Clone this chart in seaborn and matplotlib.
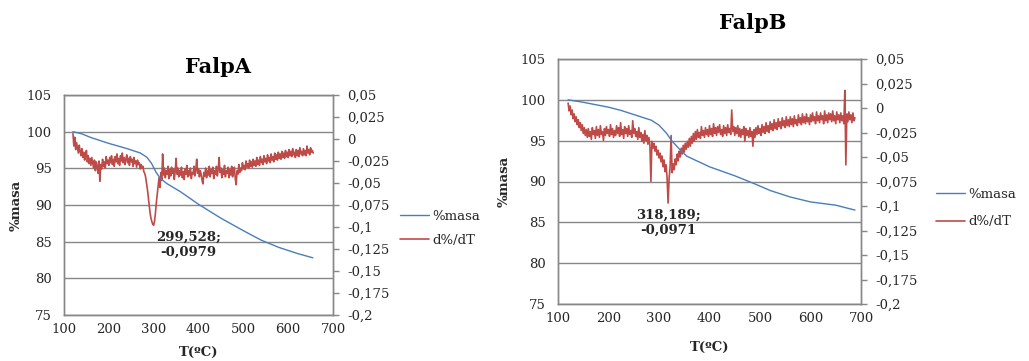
import numpy as np
import pandas as pd
import seaborn as sns
import matplotlib
matplotlib.use("Agg")
import matplotlib.pyplot as plt

# ---------------- data ----------------
titles = ["FalpA", "FalpB"]

# %masa curves (left axis)
massA_T = [120, 140, 160, 200, 240, 270, 285, 295, 305, 315, 330, 360, 400, 450, 500, 540, 580, 620, 655]
massA = [100.0, 99.7, 99.2, 98.4, 97.7, 97.1, 96.5, 95.7, 94.5, 93.6, 92.9, 91.8, 90.1, 88.2, 86.5, 85.2, 84.2, 83.4, 82.8]

massB_T = [120, 150, 200, 225, 255, 285, 300, 315, 325, 340, 355, 400, 450, 490, 520, 560, 600, 650, 688]
massB = [100.0, 99.7, 99.1, 98.7, 98.1, 97.5, 96.9, 95.9, 95.0, 94.0, 93.1, 91.8, 90.7, 89.7, 88.9, 88.1, 87.5, 87.1, 86.5]

# d%/dT curves (right axis), sampled every 2 ºC starting at 120 ºC (20 values per row = 40 ºC)
dA = [
    0.006, -0.008, 0.002, -0.012, -0.004, -0.010, -0.016, -0.007, -0.014, -0.019,
    -0.011, -0.021, -0.015, -0.024, -0.018, -0.013, -0.026, -0.019, -0.028, -0.022,   # 120
    -0.030, -0.021, -0.027, -0.033, -0.024, -0.036, -0.026, -0.031, -0.039, -0.025,
    -0.048, -0.029, -0.034, -0.023, -0.031, -0.026, -0.033, -0.020, -0.028, -0.024,   # 160
    -0.030, -0.021, -0.027, -0.019, -0.029, -0.023, -0.031, -0.020, -0.026, -0.017,
    -0.028, -0.022, -0.030, -0.019, -0.025, -0.016, -0.027, -0.021, -0.029, -0.023,   # 200
    -0.018, -0.027, -0.022, -0.030, -0.020, -0.026, -0.023, -0.031, -0.021, -0.028,
    -0.025, -0.032, -0.024, -0.029, -0.027, -0.034, -0.029, -0.033, -0.031, -0.037,   # 240
    -0.039, -0.043, -0.050, -0.057, -0.066, -0.076, -0.084, -0.090, -0.094, -0.097,
    -0.098, -0.093, -0.084, -0.072, -0.063, -0.053, -0.044, -0.055, -0.038, -0.047,   # 280
    -0.017, -0.041, -0.033, -0.044, -0.036, -0.040, -0.031, -0.045, -0.035, -0.042,
    -0.032, -0.039, -0.034, -0.046, -0.037, -0.022, -0.040, -0.033, -0.043, -0.036,   # 320
    -0.041, -0.032, -0.044, -0.037, -0.046, -0.034, -0.040, -0.030, -0.043, -0.036,
    -0.041, -0.033, -0.045, -0.038, -0.040, -0.031, -0.042, -0.035, -0.023, -0.039,   # 360
    -0.034, -0.043, -0.036, -0.040, -0.047, -0.051, -0.038, -0.042, -0.033, -0.044,
    -0.036, -0.041, -0.031, -0.043, -0.035, -0.039, -0.032, -0.045, -0.036, -0.040,   # 400
    -0.031, -0.042, -0.034, -0.021, -0.038, -0.033, -0.044, -0.035, -0.040, -0.030,
    -0.043, -0.036, -0.039, -0.032, -0.044, -0.035, -0.041, -0.031, -0.043, -0.037,   # 440
    -0.032, -0.045, -0.052, -0.036, -0.040, -0.029, -0.038, -0.033, -0.036, -0.027,
    -0.034, -0.030, -0.035, -0.025, -0.032, -0.028, -0.033, -0.024, -0.031, -0.026,   # 480
    -0.032, -0.023, -0.030, -0.025, -0.031, -0.021, -0.029, -0.024, -0.030, -0.020,
    -0.027, -0.023, -0.029, -0.019, -0.026, -0.022, -0.028, -0.018, -0.025, -0.021,   # 520
    -0.027, -0.017, -0.024, -0.020, -0.026, -0.016, -0.023, -0.018, -0.024, -0.015,
    -0.022, -0.017, -0.023, -0.014, -0.021, -0.016, -0.022, -0.013, -0.020, -0.015,   # 560
    -0.021, -0.012, -0.019, -0.014, -0.020, -0.011, -0.018, -0.015, -0.021, -0.012,
    -0.019, -0.013, -0.020, -0.010, -0.017, -0.014, -0.019, -0.011, -0.018, -0.013,   # 600
    -0.019, -0.008, -0.016, -0.012, -0.018, -0.010, -0.015, -0.013, -0.016,           # 640
]
dB = [
    0.005, -0.003, 0.002, -0.007, -0.002, -0.011, -0.006, -0.014, -0.009, -0.017,
    -0.012, -0.020, -0.015, -0.023, -0.017, -0.026, -0.020, -0.028, -0.022, -0.030,   # 120
    -0.021, -0.029, -0.024, -0.032, -0.020, -0.027, -0.023, -0.031, -0.019, -0.028,
    -0.022, -0.030, -0.018, -0.027, -0.024, -0.033, -0.021, -0.028, -0.019, -0.026,   # 160
    -0.022, -0.029, -0.017, -0.027, -0.021, -0.030, -0.023, -0.028, -0.018, -0.026,
    -0.020, -0.029, -0.015, -0.027, -0.022, -0.031, -0.019, -0.026, -0.021, -0.029,   # 200
    -0.018, -0.027, -0.023, -0.030, -0.013, -0.026, -0.021, -0.029, -0.024, -0.032,
    -0.020, -0.030, -0.025, -0.034, -0.027, -0.036, -0.023, -0.033, -0.028, -0.037,   # 240
    -0.030, -0.038, -0.075, -0.034, -0.041, -0.036, -0.044, -0.039, -0.048, -0.043,
    -0.051, -0.046, -0.055, -0.049, -0.060, -0.053, -0.065, -0.058, -0.071, -0.097,   # 280
    -0.072, -0.060, -0.028, -0.066, -0.057, -0.063, -0.052, -0.058, -0.047, -0.054,
    -0.044, -0.050, -0.041, -0.047, -0.038, -0.045, -0.036, -0.042, -0.034, -0.040,   # 320
    -0.031, -0.039, -0.029, -0.036, -0.026, -0.034, -0.024, -0.032, -0.022, -0.030,
    -0.025, -0.031, -0.019, -0.028, -0.023, -0.030, -0.020, -0.027, -0.022, -0.029,   # 360
    -0.018, -0.027, -0.021, -0.029, -0.016, -0.026, -0.020, -0.028, -0.019, -0.025,
    -0.017, -0.027, -0.022, -0.029, -0.018, -0.026, -0.020, -0.028, -0.017, -0.025,   # 400
    -0.021, -0.027, -0.002, -0.024, -0.019, -0.028, -0.020, -0.026, -0.018, -0.029,
    -0.021, -0.030, -0.022, -0.027, -0.019, -0.034, -0.021, -0.028, -0.023, -0.030,   # 440
    -0.020, -0.029, -0.024, -0.039, -0.022, -0.030, -0.020, -0.027, -0.018, -0.026,
    -0.021, -0.028, -0.017, -0.025, -0.019, -0.026, -0.015, -0.024, -0.018, -0.025,   # 480
    -0.014, -0.022, -0.016, -0.023, -0.012, -0.021, -0.015, -0.022, -0.011, -0.019,
    -0.014, -0.021, -0.010, -0.018, -0.013, -0.020, -0.009, -0.018, -0.012, -0.019,   # 520
    -0.009, -0.017, -0.011, -0.019, -0.008, -0.016, -0.012, -0.018, -0.007, -0.015,
    -0.010, -0.017, -0.006, -0.015, -0.009, -0.016, -0.006, -0.014, -0.010, -0.017,   # 560
    -0.007, -0.014, -0.005, -0.013, -0.009, -0.016, -0.004, -0.013, -0.008, -0.015,
    -0.005, -0.012, -0.008, -0.016, -0.003, -0.013, -0.007, -0.015, -0.005, -0.012,   # 600
    -0.006, -0.014, -0.003, -0.013, -0.008, -0.016, -0.004, -0.012, -0.007, -0.015,
    -0.005, -0.013, -0.008, -0.016, 0.018, -0.058, -0.006, -0.014, -0.004, -0.012,    # 640
    -0.007, -0.015, -0.005, -0.013, -0.010,                                            # 680
]
T_START, T_STEP = 120, 2
dA_T = list(range(T_START, T_START + T_STEP * len(dA), T_STEP))
dB_T = list(range(T_START, T_START + T_STEP * len(dB), T_STEP))

peaks = [(299.528, -0.0979, "299,528;\n-0,0979"), (318.189, -0.0971, "318,189;\n-0,0971")]

x_ticks = [100, 200, 300, 400, 500, 600, 700]
x_tick_labels = ["100", "200", "300", "400", "500", "600", "700"]
mass_ticks = [75, 80, 85, 90, 95, 100, 105]
mass_tick_labels = ["75", "80", "85", "90", "95", "100", "105"]
d_ticks = [0.05, 0.025, 0, -0.025, -0.05, -0.075, -0.1, -0.125, -0.15, -0.175, -0.2]
d_tick_labels = ["0,05", "0,025", "0", "-0,025", "-0,05", "-0,075", "-0,1", "-0,125",
                 "-0,15", "-0,175", "-0,2"]
series_labels = ["%masa", "d%/dT"]

# ---------------- style ----------------
sns.set_theme(style="white")
plt.rcParams['font.family'] = ['DejaVu Serif']
BLUE = "#4A7EBB"
RED = "#BE4B48"
GRID = "#878787"
TXT = "#262626"

W, H = 1029, 361
fig = plt.figure(figsize=(W / 100, H / 100), dpi=100)


def px_rect(x0, y0, x1, y1):
    return [x0 / W, 1 - y1 / H, (x1 - x0) / W, (y1 - y0) / H]


panels = [
    dict(rect=px_rect(64, 95, 333, 315), mT=massA_T, m=massA, dT=dA_T, d=dA,
         title_xy=(218, 67), leg_xy=(400, 228.5), leg_sp=0.85, ann_off=(25, -14),
         ylab_x=-0.152, xlab_y=-0.141),
    dict(rect=px_rect(558, 59, 861, 304), mT=massB_T, m=massB, dT=dB_T, d=dB,
         title_xy=(753, 23), leg_xy=(936, 208), leg_sp=1.1, ann_off=(0, -14),
         ylab_x=-0.157, xlab_y=-0.151),
]

for i, p in enumerate(panels):
    ax = fig.add_axes(p["rect"])
    ax2 = ax.twinx()
    axt = fig.add_axes(p["rect"], sharex=ax, sharey=ax)
    axt.patch.set_visible(False)
    axt.axis("off")

    sns.lineplot(x=p["dT"], y=p["d"], ax=ax2, color=RED, linewidth=1.2,
                 estimator=None, sort=False, legend=False)
    sns.lineplot(x=p["mT"], y=p["m"], ax=axt, color=BLUE, linewidth=1.0,
                 estimator=None, sort=False, legend=False)

    ax.set_xlim(100, 700)
    ax.set_ylim(75, 105)
    ax2.set_ylim(-0.2, 0.05)

    ax.set_xticks(x_ticks)
    ax.set_xticklabels(x_tick_labels)
    ax.set_yticks(mass_ticks)
    ax.set_yticklabels(mass_tick_labels)
    ax2.set_yticks(d_ticks)
    ax2.set_yticklabels(d_tick_labels)

    ax.grid(axis="y", color=GRID, linewidth=1.0)
    ax.grid(axis="x", visible=False)
    ax2.grid(False)

    for a in (ax, ax2):
        for s in a.spines.values():
            s.set_color(GRID)
            s.set_linewidth(1.0)

    ax.tick_params(axis="y", length=0, pad=9, labelsize=9.5, labelcolor=TXT)
    ax.tick_params(axis="x", length=0, pad=6, labelsize=9.5, labelcolor=TXT)
    ax2.tick_params(axis="y", length=4, width=1, color=GRID, pad=6, labelsize=9.5, labelcolor=TXT)

    ax.set_ylabel("%masa", fontsize=9.5, fontweight="bold", color=TXT)
    ax.yaxis.set_label_coords(p["ylab_x"], 0.5)
    ax.set_xlabel("T(ºC)", fontsize=9.5, fontweight="bold", color=TXT)
    ax.xaxis.set_label_coords(0.5, p["xlab_y"])

    fig.text(p["title_xy"][0] / W, 1 - p["title_xy"][1] / H, titles[i],
             ha="center", va="center", fontsize=15, fontweight="bold", color="black")

    pt, pv, plabel = peaks[i]
    ax2.annotate(plabel, xy=(pt, pv), xytext=p["ann_off"], textcoords="offset points",
                 ha="center", va="center", fontsize=9.5, fontweight="bold",
                 color=TXT, linespacing=1.25)

    h1 = axt.get_lines()[-1]
    h2 = ax2.get_lines()[-1]
    fig.legend([h1, h2], series_labels, loc="center left",
               bbox_to_anchor=(p["leg_xy"][0] / W, 1 - p["leg_xy"][1] / H),
               frameon=False, fontsize=9.5, handlelength=2.2, handletextpad=0.25,
               borderpad=0, borderaxespad=0, labelspacing=p["leg_sp"], labelcolor=TXT)

fig.savefig("out.png", dpi=100)
